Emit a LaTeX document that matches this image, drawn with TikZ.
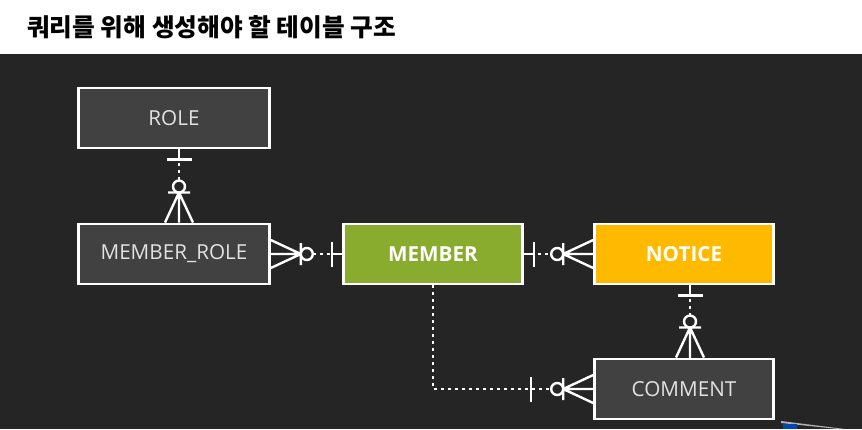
\documentclass[tikz,border=0pt]{standalone}
\usepackage{fontspec}
\setmainfont{Open Sans}
\newfontfamily\krfont{Noto Sans CJK KR}
\usetikzlibrary{calc}
\definecolor{bg}{HTML}{252525}
\definecolor{boxgray}{HTML}{414141}
\definecolor{mgreen}{HTML}{8AAC2E}
\definecolor{morange}{HTML}{FFBA00}
\definecolor{txtgray}{HTML}{E2E2E2}
\begin{document}
\begin{tikzpicture}[x=0.75pt,y=-0.75pt,
  box/.style={draw=white,line width=2.2pt,minimum height=45pt,inner sep=0pt,
              font=\fontsize{15.5}{18}\selectfont},
  widebox/.style={box,minimum width=143pt},
  midbox/.style={box,minimum width=134pt},
  solidline/.style={draw=white,line width=1.8pt},
  dotline/.style={draw=white,line width=2.1pt,dash pattern=on 2.1pt off 3.15pt},
  dir right/.style={x={(0.75pt,0pt)},y={(0pt,0.75pt)}},
  dir left/.style={x={(-0.75pt,0pt)},y={(0pt,0.75pt)}},
  dir up/.style={x={(0pt,0.75pt)},y={(0.75pt,0pt)}},
  dir down/.style={x={(0pt,-0.75pt)},y={(0.75pt,0pt)}},
  many/.pic={
    \draw[solidline] (0,-14) -- (30,0) -- (0,14) (0,0) -- (30,0) (30,-11) -- (30,11);
    \draw[solidline,fill=bg] (36,0) circle[radius=6];
  },
  one/.pic={
    \draw[solidline] (0,0) -- (10,0) (10,-12.5) -- (10,12.5);
  }
]
\useasboundingbox (0,0) rectangle (862,429);
\fill[white] (0,0) rectangle (862,54);
\fill[bg] (0,54) rectangle (862,429);
\fill[gray!60] (781,421) -- (845,429) -- (838,429) -- (781,423) -- cycle;
\fill[blue!60!cyan!70!black] (783,424) rectangle (797,429);

\node[anchor=west,inner sep=0pt,font=\krfont\bfseries\fontsize{18.5}{20}\selectfont] (title) at (27,27) {쿼리를 위해 생성해야 할 테이블 구조};

\node[widebox,fill=boxgray,text=txtgray] (role) at (174,118) {ROLE};
\node[widebox,fill=boxgray,text=txtgray] (mr) at (174,254) {MEMBER\_ROLE};
\node[midbox,fill=mgreen,text=white,font=\fontsize{15.5}{18}\selectfont\bfseries] (m) at (433,254) {MEMBER};
\node[midbox,fill=morange,text=white,font=\fontsize{15.5}{18}\selectfont\bfseries] (n) at (684,254) {NOTICE};
\node[midbox,fill=boxgray,text=txtgray] (c) at (684,389) {COMMENT};

\coordinate (k1) at (179,0);
\coordinate (k2) at (690,0);

% ROLE - MEMBER_ROLE
\draw[dotline] (role.south -| k1) -- (mr.north -| k1);
\path (role.south -| k1) pic[dir down] {one};
\path (mr.north -| k1) pic[dir up] {many};

% MEMBER_ROLE - MEMBER
\draw[dotline] (mr.east) -- (m.west);
\path (mr.east) pic[dir right] {many};
\path (m.west) pic[dir left] {one};

% MEMBER - NOTICE
\draw[dotline] (m.east) -- (n.west);
\path (m.east) pic[dir right] {one};
\path (n.west) pic[dir left] {many};

% NOTICE - COMMENT
\draw[dotline] (n.south -| k2) -- (c.north -| k2);
\path (n.south -| k2) pic[dir down] {one};
\path (c.north -| k2) pic[dir up] {many};

% MEMBER - COMMENT
\draw[dotline] (m.south) |- (c.west);
\coordinate (bar) at ($(c.west)+(-62,0)$);
\draw[solidline] ($(bar)+(0,-12.5)$) -- ($(bar)+(0,12.5)$);
\path (c.west) pic[dir left] {many};
\end{tikzpicture}
\end{document}
